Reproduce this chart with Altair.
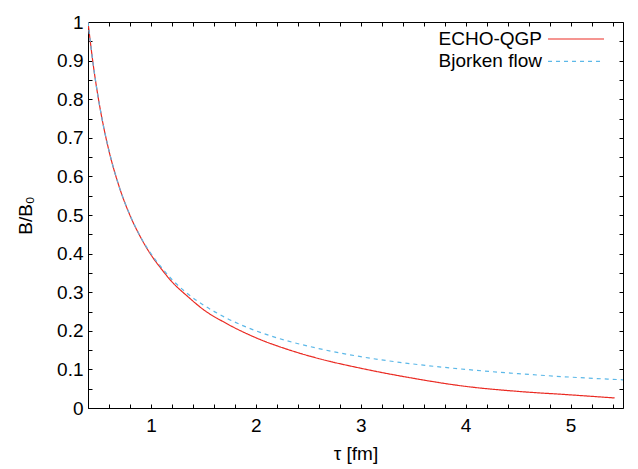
import altair as alt
import pandas as pd

# values
tau_echo = [0.4, 0.45, 0.5, 0.55, 0.6, 0.7, 0.8, 0.9, 1.0, 1.1, 1.2, 1.35, 1.5, 1.72,
            2.0, 2.3, 2.6, 3.0, 3.5, 4.0, 4.5, 5.0, 5.42]
b_echo = [1.0, 0.889, 0.80, 0.727, 0.666, 0.571, 0.499, 0.443, 0.397, 0.36, 0.327, 0.289,
          0.255, 0.219, 0.182, 0.152, 0.128, 0.103, 0.077, 0.056, 0.043, 0.034, 0.026]

tau_bjorken = [0.4, 0.45, 0.5, 0.55, 0.6, 0.7, 0.8, 0.9, 1.0, 1.1, 1.2, 1.35, 1.5, 1.72,
               2.0, 2.3, 2.6, 3.0, 3.5, 4.0, 4.5, 5.0, 5.5]
b_bjorken = [1.0, 0.889, 0.80, 0.727, 0.667, 0.571, 0.5, 0.444, 0.4, 0.364, 0.333, 0.296,
             0.267, 0.233, 0.2, 0.174, 0.154, 0.133, 0.114, 0.1, 0.089, 0.08, 0.073]

series_names = ["ECHO-QGP", "Bjorken flow"]
series_colors = ["#ea2a22", "#5cb8e8"]

x_major = [1, 2, 3, 4, 5]
x_ticks = [0.4, 0.6, 0.8, 1.0, 1.2, 1.4, 1.6, 1.8, 2.0, 2.2, 2.4, 2.6, 2.8, 3.0, 3.2,
           3.4, 3.6, 3.8, 4.0, 4.2, 4.4, 4.6, 4.8, 5.0, 5.2, 5.4]
y_major = [0, 0.1, 0.2, 0.3, 0.4, 0.5, 0.6, 0.7, 0.8, 0.9, 1]
y_ticks = [0, 0.05, 0.1, 0.15, 0.2, 0.25, 0.3, 0.35, 0.4, 0.45, 0.5, 0.55, 0.6, 0.65,
           0.7, 0.75, 0.8, 0.85, 0.9, 0.95, 1]

rows = []
for t, b in zip(tau_echo, b_echo):
    rows.append({"series": series_names[0], "tau": t, "b": b})
for t, b in zip(tau_bjorken, b_bjorken):
    rows.append({"series": series_names[1], "tau": t, "b": b})
df = pd.DataFrame(rows)

W, H = 535, 386
FONT = "Liberation Sans"
FS = 19

xscale = alt.Scale(domain=[0.4, 5.5], nice=False, zero=False)
yscale = alt.Scale(domain=[0, 1], nice=False, zero=False)


def tick_axis(orient, values, size, offset):
    return alt.Axis(orient=orient, values=values, tickSize=size, offset=offset,
                    labels=False, domain=False, title=None, tickColor="black")


base = alt.Chart(df)

lines = base.mark_line(strokeWidth=1.2, interpolate="monotone", clip=True).encode(
    x=alt.X("tau:Q", scale=xscale,
            axis=alt.Axis(orient="bottom", values=x_major, ticks=False, domain=False,
                          grid=False, title="τ [fm]", labelFont=FONT, labelFontSize=FS,
                          labelPadding=8, labelColor="black", titleFont=FONT,
                          titleFontSize=FS, titleFontWeight="normal", titlePadding=9,
                          titleColor="black", format="~g")),
    y=alt.Y("b:Q", scale=yscale,
            axis=alt.Axis(orient="left", values=y_major, ticks=False, domain=False,
                          grid=False, title="B/B₀", labelFont=FONT, labelFontSize=FS,
                          labelPadding=5, labelColor="black", titleFont=FONT,
                          titleFontSize=FS, titleFontWeight="normal", titlePadding=21,
                          titleColor="black", format="~g")),
    color=alt.Color("series:N",
                    scale=alt.Scale(domain=series_names, range=series_colors),
                    legend=alt.Legend(title=None, orient="none", legendX=434, legendY=7,
                                      padding=0, labelFont=FONT, labelFontSize=FS,
                                      labelColor="black", labelAlign="right",
                                      labelOffset=0, symbolType="M1.78,0H8",
                                      symbolSize=324, symbolStrokeWidth=1.2,
                                      rowPadding=2.4, symbolFillColor="transparent")),
    strokeDash=alt.StrokeDash("series:N",
                              scale=alt.Scale(domain=series_names, range=[[1, 0], [4, 4]]),
                              legend=None),
    detail="series:N",
)


def dummy(xaxis, yaxis):
    return base.mark_line(opacity=0).encode(
        x=alt.X("tau:Q", scale=xscale, axis=xaxis),
        y=alt.Y("b:Q", scale=yscale, axis=yaxis),
        detail="series:N",
    )


# inward ticks on bottom/left edges and on top/right edges
inner1 = dummy(tick_axis("top", x_ticks, 4, -H), tick_axis("right", y_ticks, 4, -W))
inner2 = dummy(tick_axis("bottom", x_ticks, 4, -H), tick_axis("left", y_ticks, 4, -W))

chart = alt.layer(lines, inner1, inner2).resolve_axis(
    x="independent", y="independent"
).properties(
    width=W, height=H,
    padding={"left": 8, "top": 5, "right": 5, "bottom": 5},
).configure(
    background="white",
    view=alt.ViewConfig(stroke="black", strokeWidth=1),
    axis=alt.AxisConfig(grid=False),
)

chart.save("out.html", embed_options={"renderer": "svg", "actions": False})
